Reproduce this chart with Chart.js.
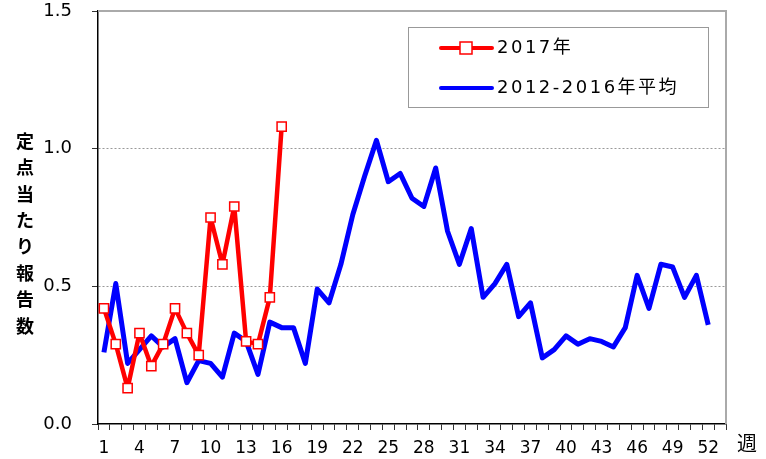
<!DOCTYPE html>
<html>
<head>
<meta charset="utf-8">
<script src="https://cdn.jsdelivr.net/npm/chart.js@4"></script>
<style>
  body { margin: 0; background: #fff; }
  #wrap { width: 766px; height: 459px; }
</style>
</head>
<body>
<div id="wrap"><canvas id="chart" width="766" height="459"></canvas></div>
<script>
// weeks 1..53
const weeks = Array.from({ length: 53 }, (_, i) => String(i + 1));

// 2017 weekly values (up to week 16)
const y2017 = [0.42, 0.29, 0.13, 0.33, 0.21, 0.29, 0.42, 0.33, 0.25, 0.75,
  0.58, 0.79, 0.30, 0.29, 0.46, 1.08];

// 2012-2016 average
const avg1216 = [0.26, 0.51, 0.22, 0.27, 0.32, 0.28, 0.31, 0.15, 0.23, 0.22,
  0.17, 0.33, 0.30, 0.18, 0.37, 0.35, 0.35, 0.22, 0.49, 0.44,
  0.58, 0.76, 0.90, 1.03, 0.88, 0.91, 0.82, 0.79, 0.93, 0.70,
  0.58, 0.71, 0.46, 0.51, 0.58, 0.39, 0.44, 0.24, 0.27, 0.32,
  0.29, 0.31, 0.30, 0.28, 0.35, 0.54, 0.42, 0.58, 0.57, 0.46,
  0.54, 0.36];

const yTicks = [0, 0.5, 1.0, 1.5];
const yTitle = "定点当たり報告数";
const xUnit = "週";

const FONT = "'DejaVu Sans', 'Noto Sans CJK JP', sans-serif";

// legend box, y-axis title and the frame
const extras = {
  id: "extras",
  afterDraw(chart) {
    const ctx = chart.ctx;
    const a = chart.chartArea;
    ctx.save();
    // gray top and right border
    ctx.strokeStyle = "#aaa";
    ctx.lineWidth = 2;
    ctx.beginPath();
    ctx.moveTo(a.left, a.top);
    ctx.lineTo(a.right, a.top);
    ctx.lineTo(a.right, a.bottom);
    ctx.stroke();

    // legend
    const lx = 408, ly = 27, lw = 300, lh = 80;
    ctx.fillStyle = "#fff";
    ctx.fillRect(lx, ly, lw, lh);
    ctx.strokeStyle = "#999";
    ctx.lineWidth = 1;
    ctx.strokeRect(lx + 0.5, ly + 0.5, lw, lh);
    const items = chart.data.datasets;
    items.forEach((ds, i) => {
      const yy = ly + 21 + i * 40;
      ctx.strokeStyle = ds.borderColor;
      ctx.lineWidth = 4;
      ctx.lineCap = "round";
      ctx.beginPath();
      ctx.moveTo(441, yy);
      ctx.lineTo(492, yy);
      ctx.stroke();
      if (ds.pointRadius > 0) {
        ctx.fillStyle = "#fff";
        ctx.strokeStyle = ds.borderColor;
        ctx.lineWidth = 1.5;
        ctx.fillRect(460, yy - 6, 12, 12);
        ctx.strokeRect(460, yy - 6, 12, 12);
      }
      ctx.fillStyle = "#000";
      ctx.font = "18px " + FONT;
      ctx.letterSpacing = "2.5px";
      ctx.textBaseline = "middle";
      ctx.textAlign = "left";
      ctx.fillText(ds.label, 497, yy);
      ctx.letterSpacing = "0px";
    });

    // stacked y title
    ctx.fillStyle = "#000";
    ctx.font = "bold 18px 'Noto Sans CJK JP', sans-serif";
    ctx.textAlign = "center";
    ctx.textBaseline = "middle";
    [...yTitle].forEach((ch, i) => ctx.fillText(ch, 25, 141 + i * 26.4));

    // unit label
    ctx.font = "20px 'Noto Sans CJK JP', sans-serif";
    ctx.fillText(xUnit, 747, 443);
    ctx.restore();
  }
};

new Chart(document.getElementById("chart"), {
  type: "line",
  data: {
    labels: weeks,
    datasets: [
      {
        label: "2017年",
        data: y2017,
        borderColor: "#ff0000",
        backgroundColor: "#ffffff",
        borderWidth: 4.5,
        borderJoinStyle: "round",
        pointStyle: "rect",
        pointRadius: 6.5,
        pointBorderWidth: 1.5,
        pointBorderColor: "#ff0000",
        pointBackgroundColor: "#ffffff",
        lineTension: 0,
        order: 0
      },
      {
        label: "2012-2016年平均",
        data: avg1216,
        borderColor: "#0000ff",
        borderWidth: 5,
        borderJoinStyle: "round",
        pointRadius: 0,
        lineTension: 0,
        order: 1
      }
    ]
  },
  plugins: [extras],
  options: {
    responsive: false,
    animation: false,
    devicePixelRatio: 1,
    layout: { padding: { left: 0, right: 40, top: 11, bottom: 0 } },
    plugins: {
      legend: { display: false },
      tooltip: { enabled: false }
    },
    scales: {
      x: {
        offset: true,
        grid: {
          offset: true,
          drawOnChartArea: false,
          tickLength: 6,
          color: "#333"
        },
        border: { color: "#000", width: 1.5 },
        ticks: {
          autoSkip: false,
          maxRotation: 0,
          color: "#000",
          font: { family: FONT, size: 17 },
          padding: 8,
          callback: function (val, i) {
            return i % 3 === 0 && i < 52 ? weeks[i] : "";
          }
        },
        afterFit: function (s) {
          s.height = 35;
          s.paddingLeft = 0;
          s.paddingRight = 0;
        }
      },
      y: {
        min: 0,
        max: 1.5,
        afterBuildTicks: function (s) {
          s.ticks = yTicks.map(v => ({ value: v }));
        },
        grid: {
          color: function (c) {
            return c.tick && (c.tick.value === 0.5 || c.tick.value === 1) ? "#999" : "rgba(0,0,0,0)";
          },
          tickColor: "#333",
          tickLength: 6,
          lineWidth: 1
        },
        border: { color: "#000", width: 1.5, dash: [2, 2] },
        ticks: {
          color: "#000",
          font: { family: FONT, size: 18 },
          padding: 20,
          callback: v => v.toFixed(1)
        },
        afterFit: function (s) {
          s.width = 98;
          s.paddingTop = 0;
          s.paddingBottom = 0;
        }
      }
    }
  }
});
</script>
</body>
</html>
